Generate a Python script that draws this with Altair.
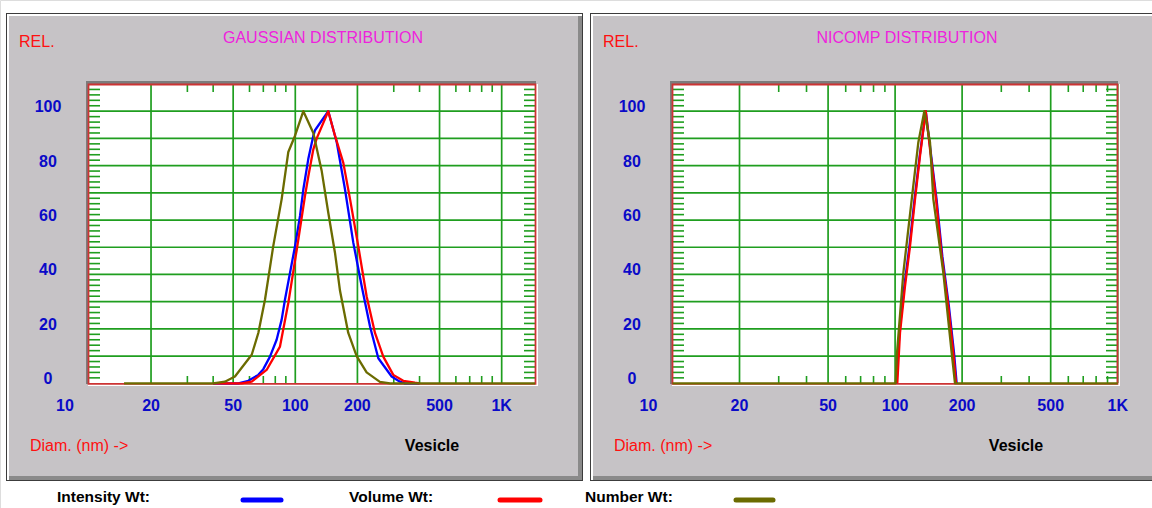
import altair as alt
import pandas as pd

# ---------------- data ----------------
panel_titles = ["GAUSSIAN DISTRIBUTION", "NICOMP DISTRIBUTION"]
x_ticks = [10, 20, 50, 100, 200, 500, 1000]
x_tick_labels = ["10", "20", "50", "100", "200", "500", "1K"]
y_ticks = [0, 20, 40, 60, 80, 100]
x_grid = [20, 50, 100, 200, 500, 1000]
y_grid = [10, 20, 30, 40, 50, 60, 70, 80, 90, 100]
x_minor = [30, 40, 60, 70, 80, 90, 300, 400, 600, 700, 800, 900]
y_minor = [2, 4, 6, 8, 12, 14, 16, 18, 22, 24, 26, 28, 32, 34, 36, 38, 42, 44, 46, 48,
           52, 54, 56, 58, 62, 64, 66, 68, 72, 74, 76, 78, 82, 84, 86, 88, 92, 94, 96, 98,
           102, 104, 106, 108]
series_names = ["Intensity Wt:", "Volume Wt:", "Number Wt:"]

# Gaussian distribution (left panel)
gauss_int_d = [40, 53, 59.2, 66.2, 70, 75.4, 81.2, 85.9, 89.1, 94.3, 99.7, 105.4, 109.4,
               115.6, 122.3, 124.6, 144.5, 158.8, 174.1, 191, 209.8, 230.2, 252.5, 293,
               321.5, 340, 400]
gauss_int_v = [0, 0, 0.9, 3.1, 5.2, 9.8, 16, 23.4, 30.7, 40.6, 50.4, 61.5, 71.3,
               82.4, 91, 93, 100, 88.6, 71.3, 51.7, 35.7, 20.9, 9.2, 2.5,
               0.6, 0, 0]
gauss_vol_d = [40, 55, 61.5, 72.6, 84.3, 92.5, 101.6, 111.5, 115.6, 122.3, 127, 144.5,
               155.7, 170.9, 184.2, 201.9, 221.6, 243.3, 266.9, 298.4, 333.6, 380, 400]
gauss_vol_v = [0, 0, 0.6, 4.9, 13.5, 29.5, 49, 69, 76, 86, 90, 100,
               91, 81, 67.7, 50.4, 32, 18.5, 9.8, 3.1, 0.9, 0.2, 0]
gauss_num_d = [14.8, 40, 45.6, 51, 61.5, 66.2, 71.3, 78.2, 85.9, 92.5, 99.7, 109.4,
               122.3, 134.3, 144.5, 155.7, 164.7, 180.6, 198.3, 221.6, 257, 288, 1450]
gauss_num_v = [0, 0, 0.6, 2.5, 10.5, 18.5, 30.7, 50.4, 67.7, 85, 91, 100,
               92, 78, 62.7, 48, 34, 18.5, 10, 4, 0.5, 0, 0]

# Nicomp distribution (right panel)
nicomp_int_d = [101.5, 104.5, 110, 116, 122.3, 129, 137.3, 144, 153.5, 163, 174.5, 184, 189]
nicomp_int_v = [0, 18.5, 35.7, 50.4, 67.7, 83.6, 100, 86.1, 67.7, 46.7, 28.3, 11.1, 0]
nicomp_vol_d = [102.3, 105.2, 110.8, 116.7, 122.9, 129.4, 137.3, 143.5, 152.7, 162, 173.4, 182.6, 187.8]
nicomp_vol_v = [0, 18.5, 35.7, 50.4, 67.7, 83.6, 100, 86.1, 67.7, 46.7, 28.3, 11.1, 0]
nicomp_num_d = [10, 100.6, 101.7, 108.9, 118.8, 127.2, 135.3, 143.5, 148.5, 164.7, 179.6, 185.8, 1000]
nicomp_num_v = [0, 0, 9.8, 40.6, 67.7, 88.6, 100, 88.6, 67.7, 40.6, 11.1, 0, 0]

# ---------------- styling ----------------
FONT = "Liberation Sans Narrow, Arial Narrow, Liberation Sans, sans-serif"
GRAY = "#c6c3c6"
SHADOW = "#8a8a8a"
GREEN = "#1f9e1f"
BLUE_TXT = "#0a0ac8"
C_INT, C_VOL, C_NUM = "#0000ff", "#ff0000", "#6b6b00"

one = pd.DataFrame({"a": [0]})
yscale = alt.Scale(domain=[0, 110], range=[383.3, 84], nice=False, zero=False)

panels = [
    dict(off=0, dom=[10, 1460], rng=[88.9, 535.6], px0=88, px1=536, title=panel_titles[0],
         series=[(gauss_int_d, gauss_int_v, C_INT), (gauss_vol_d, gauss_vol_v, C_VOL),
                 (gauss_num_d, gauss_num_v, C_NUM)]),
    dict(off=584, dom=[10, 1000], rng=[672.5, 1117.7], px0=672, px1=1118, title=panel_titles[1],
         series=[(nicomp_int_d, nicomp_int_v, C_INT), (nicomp_vol_d, nicomp_vol_v, C_VOL),
                 (nicomp_num_d, nicomp_num_v, C_NUM)]),
]


def box(x0, x1, y0, y1, color):
    return alt.Chart(one).mark_rect(color=color).encode(
        x=alt.value(x0), x2=alt.value(x1), y=alt.value(y0), y2=alt.value(y1))


def label(text, x, y, color, size, align="left", weight="normal"):
    return alt.Chart(one).mark_text(text=text, color=color, fontSize=size, font=FONT,
                                    align=align, baseline="middle", fontWeight=weight).encode(
        x=alt.value(x), y=alt.value(y))


layers = []
for p in panels:
    o = p["off"]
    xs = alt.Scale(type="log", domain=p["dom"], range=p["rng"], nice=False)
    px0, px1 = p["px0"], p["px1"]
    # frame (3D style)
    layers += [box(6 + o, 583 + o, 13, 481, "#3c3c3c"),
               box(7 + o, 582 + o, 14, 480, "#ffffff"),
               box(9 + o, 582 + o, 16, 480, SHADOW),
               box(9 + o, 578 + o, 16, 476, GRAY)]
    # plot area
    layers += [box(px0 - 2, px1, 81, 384, "#7c7c7c"),
               box(px0, px1 + 2, 84, 386, "#ffffff")]
    xg = pd.DataFrame({"g": x_grid})
    yg = pd.DataFrame({"g": y_grid})
    xm = pd.DataFrame({"g": x_minor})
    ym = pd.DataFrame({"g": y_minor})
    layers.append(alt.Chart(xg).mark_rule(color=GREEN, strokeWidth=1.7).encode(
        x=alt.X("g:Q", scale=xs, axis=None), y=alt.value(84), y2=alt.value(383)))
    layers.append(alt.Chart(yg).mark_rule(color=GREEN, strokeWidth=1.7).encode(
        y=alt.Y("g:Q", scale=yscale, axis=None), x=alt.value(px0), x2=alt.value(px1)))
    for (a, b) in [(px0 + 1, px0 + 12), (px1 - 12, px1 - 1)]:
        layers.append(alt.Chart(ym).mark_rule(color=GREEN, strokeWidth=1.6).encode(
            y=alt.Y("g:Q", scale=yscale, axis=None), x=alt.value(a), x2=alt.value(b)))
    for (a, b) in [(85, 92), (376, 383)]:
        layers.append(alt.Chart(xm).mark_rule(color=GREEN, strokeWidth=1.6).encode(
            x=alt.X("g:Q", scale=xs, axis=None), y=alt.value(a), y2=alt.value(b)))
    # red border of plot
    layers.append(alt.Chart(one).mark_rect(fillOpacity=0, stroke="#cc3333", strokeWidth=1.8).encode(
        x=alt.value(px0 + 0.5), x2=alt.value(px1 - 0.5), y=alt.value(84.5), y2=alt.value(383.8)))
    # curves
    for d, v, c in p["series"]:
        df = pd.DataFrame({"d": d, "v": v})
        layers.append(alt.Chart(df).mark_line(color=c, strokeWidth=2.3, strokeJoin="round").encode(
            x=alt.X("d:Q", scale=xs, axis=None),
            y=alt.Y("v:Q", scale=yscale, axis=None),
            order="d:Q"))
    # tick labels
    xl = pd.DataFrame({"t": x_ticks, "lab": x_tick_labels})
    layers.append(alt.Chart(xl).transform_filter("datum.t != 10").mark_text(
        color=BLUE_TXT, fontSize=16, fontWeight="bold", font=FONT, baseline="middle").encode(
        x=alt.X("t:Q", scale=xs, axis=None), y=alt.value(406), text="lab:N"))
    layers.append(alt.Chart(xl).transform_filter("datum.t == 10").mark_text(
        color=BLUE_TXT, fontSize=16, fontWeight="bold", font=FONT, baseline="middle", dx=-24).encode(
        x=alt.X("t:Q", scale=xs, axis=None), y=alt.value(406), text="lab:N"))
    yl = pd.DataFrame({"t": y_ticks})
    layers.append(alt.Chart(yl).mark_text(
        color=BLUE_TXT, fontSize=16, fontWeight="bold", font=FONT, baseline="middle", dy=-4).encode(
        y=alt.Y("t:Q", scale=yscale, axis=None), x=alt.value(48 + o), text="t:Q"))
    # panel texts
    layers += [label("REL.", 19 + o, 42, "#ff1010", 16),
               label(p["title"], 323 + o, 38, "#ee22dd", 16, align="center"),
               label("Diam. (nm) ->", 30 + o, 446, "#ff1010", 16),
               label("Vesicle", 432 + o, 446, "#000000", 16, align="center", weight="bold")]

# legend
for name, tx, (s0, s1), c in zip(series_names, [57, 349, 585],
                                  [(243, 281), (500, 540), (736, 773)],
                                  [C_INT, C_VOL, C_NUM]):
    layers.append(label(name, tx, 497, "#000000", 15.5, weight="bold"))
    layers.append(alt.Chart(one).mark_rule(color=c, strokeWidth=5, strokeCap="round").encode(
        x=alt.value(s0), x2=alt.value(s1), y=alt.value(500)))

chart = alt.layer(*layers).resolve_scale(x="independent").properties(
    width=1152, height=508, autosize=alt.AutoSizeParams(type="none"), padding=0
).configure_view(strokeWidth=0).configure(background="#ffffff")

chart.save("out.html", embed_options={"renderer": "svg", "actions": False})
